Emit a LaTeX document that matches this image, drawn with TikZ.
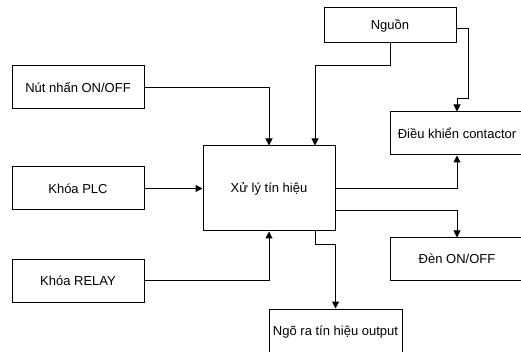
\documentclass[tikz,border=0pt]{standalone}
\usepackage{fontspec}
\setmainfont{Liberation Sans}
\usetikzlibrary{arrows.meta}
\tikzset{
  blk/.style={draw, line width=1pt, rectangle, inner sep=0pt, align=center, font=\fontsize{13}{15}\selectfont},
  arr/.style={line width=1pt, -{Triangle[length=7pt,width=7pt]}},
}
\begin{document}
\begin{tikzpicture}[x=1pt,y=-1pt]
\useasboundingbox (0,0) rectangle (521,352);
\clip (0,0) rectangle (521,352);
\fill[white] (0,0) rectangle (521,352);
\node[blk, minimum width=132pt, minimum height=35pt] (nguon) at (390,25.5) {Nguồn};
\node[blk, minimum width=132pt, minimum height=43pt] (nut) at (78,87.5) {Nút nhấn ON/OFF};
\node[blk, minimum width=132pt, minimum height=43pt] (plc) at (78,188.5) {Khóa PLC};
\node[blk, minimum width=132pt, minimum height=43pt] (relay) at (78,280.5) {Khóa RELAY};
\node[blk, minimum width=132pt, minimum height=85pt] (xuly) at (269,188.5) {Xử lý tín hiệu};
\node[blk, minimum width=134pt, minimum height=43pt] (dk) at (457,133.5) {Điều khiển contactor};
\node[blk, minimum width=134pt, minimum height=42pt] (den) at (457,259) {Đèn ON/OFF};
\node[blk, minimum width=133pt, minimum height=46pt] (ngo) at (335.5,332) {Ngõ ra tín hiệu output};
\coordinate (c1) at (468,99);
\draw[arr] (nut.east) -| (xuly.north);
\draw[arr] (nguon.south) -- ++(0,22) -| ([xshift=46pt]xuly.north);
\draw[arr] ([yshift=-3.5pt]nguon.east) -| (c1) -| (dk.north);
\draw[arr] (xuly.east) -| (dk.south);
\draw[arr] (plc.east) -- (xuly.west);
\draw[arr] (relay.east) -| (xuly.south);
\draw[arr] ([yshift=-22pt]xuly.east) -| (den.north);
\draw[arr] ([xshift=46pt]xuly.south) -- ++(0,13) -| (ngo.north);
\end{tikzpicture}
\end{document}
